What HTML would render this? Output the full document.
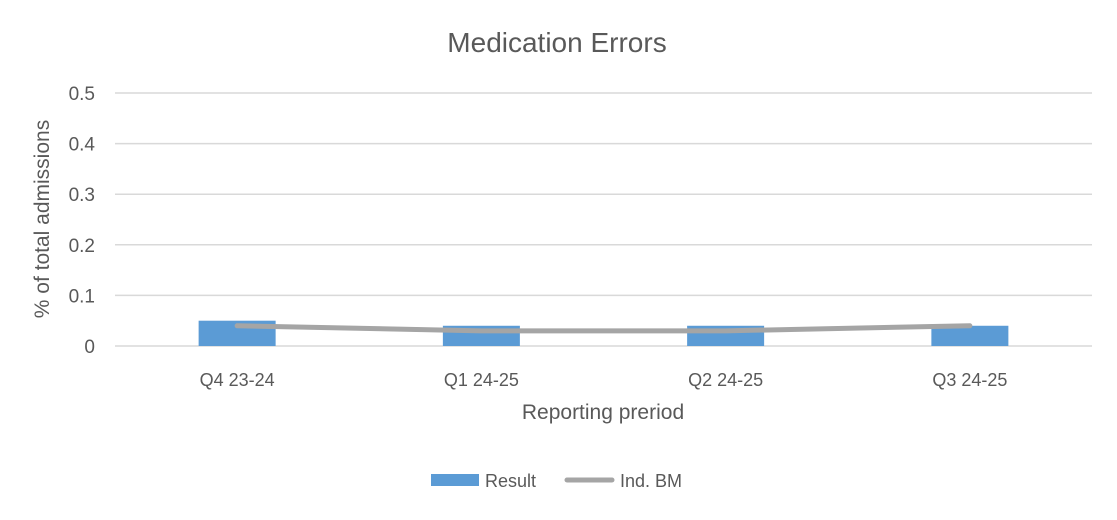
<!DOCTYPE html>
<html><head><meta charset="utf-8"><style>
body{margin:0;background:#fff;font-family:"Liberation Sans",sans-serif;}
</style></head><body>
<svg id="chart" width="1117" height="515" xmlns="http://www.w3.org/2000/svg" font-family="Liberation Sans, sans-serif">
<rect width="1117" height="515" fill="#fff"/>
<text x="557" y="52" text-anchor="middle" font-size="28" fill="#595959">Medication Errors</text>
<g id="grid"></g><g id="bars"></g><g id="line"></g><g id="labels"></g>
<text transform="translate(49,219) rotate(-90)" text-anchor="middle" font-size="21" fill="#595959">% of total admissions</text>
<text x="603" y="419" text-anchor="middle" font-size="21" fill="#595959">Reporting preriod</text>
<g>
<rect x="431" y="474" width="48" height="12" fill="#5b9bd5"/>
<text x="485" y="487" font-size="18" fill="#595959">Result</text>
<line x1="567" y1="480" x2="612" y2="480" stroke="#a5a5a5" stroke-width="5" stroke-linecap="round"/>
<text x="620" y="487" font-size="18" fill="#595959">Ind. BM</text>
</g>
</svg>
<script>
const categories=["Q4 23-24","Q1 24-25","Q2 24-25","Q3 24-25"];
const resultValues=[0.05,0.04,0.04,0.04];
const benchmarkValues=[0.04,0.03,0.03,0.04];
const yTicks=[0,0.1,0.2,0.3,0.4,0.5];
const NS="http://www.w3.org/2000/svg";
const x0=115,x1=1092,y0=346,yTop=93,yMax=0.5;
const bw=(x1-x0)/categories.length;
function xc(i){return x0+bw*(i+0.5);}
function y(v){return y0-(v/yMax)*(y0-yTop);}
function mk(tag,attrs,parent){const e=document.createElementNS(NS,tag);for(const k in attrs)e.setAttribute(k,attrs[k]);document.getElementById(parent).appendChild(e);return e;}
yTicks.forEach(t=>{
 const l=mk('line',{x1:x0,x2:x1,y1:y(t),y2:y(t),stroke:'#d9d9d9','stroke-width':1.5},'grid');
 
 
 const tx=mk('text',{x:95,y:y(t)+7,'text-anchor':'end','font-size':19,fill:'#595959'},'labels');
 tx.textContent=String(t);
 
 
});
categories.forEach((c,i)=>{
 const w=77;
 const r=mk('rect',{x:xc(i)-w/2,y:y(resultValues[i]),width:w,height:y0-y(resultValues[i]),fill:'#5b9bd5'},'bars');
 
 
 const tx=mk('text',{x:xc(i),y:386,'text-anchor':'middle','font-size':18,fill:'#595959'},'labels');
 tx.textContent=c;
 
 
});
const pts=benchmarkValues.map((v,i)=>xc(i)+','+y(v)).join(' ');
const pl=mk('polyline',{points:pts,fill:'none',stroke:'#a5a5a5','stroke-width':5,'stroke-linecap':'round','stroke-linejoin':'round'},'line');


</script>
</body></html>
